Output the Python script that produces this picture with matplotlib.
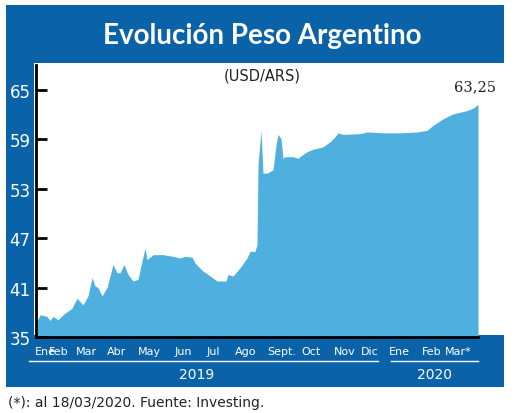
import matplotlib
matplotlib.use("Agg")
import matplotlib.pyplot as plt
from matplotlib.patches import Rectangle
from matplotlib.lines import Line2D

days = [0,3,10,13,16,21,26,35,40,46,51,55,58,61,65,70,76,80,83,87,91,96,101,105,108,110,116,126,136,143,148,155,158,161,166,171,180,189,191,196,203,210,213,218,220,221,224,226,230,236,239,241,244,246,248,256,261,265,270,276,286,293,298,301,306,323,330,346,363,380,390,396,406,416,430,436,441]
values = [36.9,37.7,37.5,37.0,37.5,37.1,37.7,38.5,39.7,38.9,40.0,42.2,41.2,41.0,40.0,41.0,43.8,42.8,42.8,43.8,42.6,41.8,42.0,44.2,45.8,44.4,45.0,45.0,44.8,44.6,44.8,44.7,44.0,43.6,43.0,42.6,41.8,41.8,42.6,42.4,43.4,44.6,45.4,45.4,46.2,55.9,60.1,54.9,54.9,55.3,58.3,59.6,59.1,56.7,56.9,56.9,56.7,57.1,57.5,57.8,58.1,58.7,59.3,59.8,59.6,59.7,59.9,59.8,59.8,59.9,60.1,60.7,61.5,62.1,62.5,62.8,63.25]
yticks = [35,41,47,53,59,65]
months = ["Ene","Feb","Mar","Abr","May","Jun","Jul","Ago","Sept.","Oct","Nov","Dic","Ene","Feb","Mar*"]
month_px = [45,59,86,117,149,183,213,246,282,311,345,370,399,432,458]
years = ["2019","2020"]

W, H = 520, 414
DARK = "#0a63a8"
FILL = "#4fb0e0"
fig = plt.figure(figsize=(W/100, H/100), dpi=100)
def fx(x): return x/W
def fy(y): return 1-y/H

bg = fig.add_axes([0, 0, 1, 1], zorder=-5)
bg.set_xlim(0, W); bg.set_ylim(H, 0); bg.axis("off")
bg.add_patch(Rectangle((6, 6), 498, 382, color=DARK, lw=0))
bg.add_patch(Rectangle((34, 64), 470, 272, color="white", lw=0))

fig.text(fx(262), fy(36), "Evolución Peso Argentino", color="white", fontsize=20, fontweight="bold", family="Lato", ha="center", va="center")
fig.text(fx(262), fy(76), "(USD/ARS)", color="#222222", fontsize=10.5, ha="center", va="center")

ax = fig.add_axes([fx(36), fy(338), fx(504)-fx(36), fy(66)-fy(338)], zorder=1)
ax.set_facecolor("none")
ax.fill_between(days, values, 35, color=FILL, lw=0)
ax.set_xlim(-1, 467)
ax.set_ylim(35, 35 + (338-66)*30/247)
for s in ["top","right"]:
    ax.spines[s].set_visible(False)
ax.spines["left"].set_linewidth(2)
ax.spines["bottom"].set_linewidth(2)
ax.spines["bottom"].set_bounds(-1, 441)
ax.set_yticks(yticks)
ax.tick_params(axis="y", direction="in", length=8, width=2, colors="black", labelcolor="white", labelsize=12, pad=4)
ax.set_xticks([])
ax.annotate("63,25", (441, 63.25), xytext=(-2, 8), textcoords="offset points", ha="center", va="bottom", fontsize=10.5, family="DejaVu Serif", color="#222222")

for m, px in zip(months, month_px):
    fig.text(fx(px), fy(352), m, color="white", fontsize=8, ha="center", va="center")
fig.lines.append(Line2D([fx(29), fx(378)], [fy(362), fy(362)], transform=fig.transFigure, color="white", lw=1))
fig.lines.append(Line2D([fx(391), fx(478)], [fy(362), fy(362)], transform=fig.transFigure, color="white", lw=1))
fig.text(fx(197), fy(375), years[0], color="white", fontsize=10, ha="center", va="center")
fig.text(fx(435), fy(375), years[1], color="white", fontsize=10, ha="center", va="center")
fig.text(fx(8), fy(403), "(*): al 18/03/2020. Fuente: Investing.", color="#222222", fontsize=10, ha="left", va="center")

fig.savefig("out.png", dpi=100)
